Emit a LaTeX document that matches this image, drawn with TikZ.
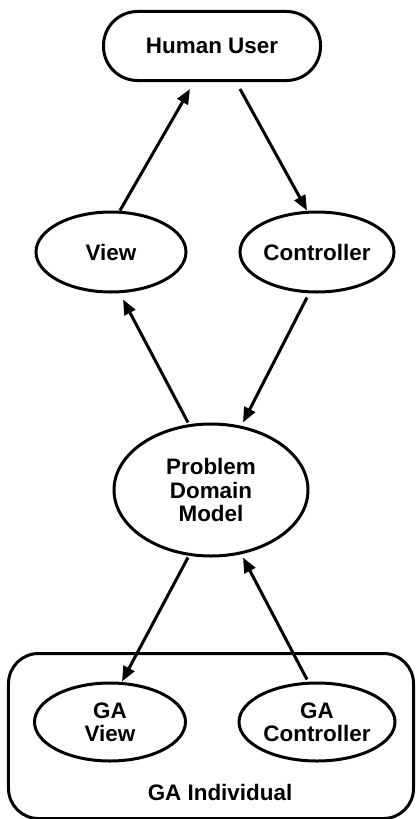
\documentclass[tikz,border=0pt]{standalone}
\usepackage{fontspec}
\setmainfont{Liberation Sans}
\usetikzlibrary{shapes.geometric,arrows.meta}
\begin{document}
\begin{tikzpicture}[x=1bp,y=-1bp,
  every node/.style={font=\fontsize{22.5}{23.5}\selectfont\bfseries},
  oval/.style={draw,ellipse,line width=3bp,inner sep=0pt,align=center},
  link/.style={line width=3bp,-{Triangle[length=15bp,width=12bp]}}]
\useasboundingbox (0,0) rectangle (415,819);
\node[draw,rounded corners=34bp,line width=3bp,minimum width=217bp,minimum height=69bp,inner sep=0pt] (human) at (212,46) {Human User};
\node[oval,minimum width=150bp,minimum height=80bp] (view) at (111,252) {View};
\node[oval,minimum width=154bp,minimum height=80bp] (ctrl) at (317,252) {Controller};
\node[oval,minimum width=194bp,minimum height=132bp] (pdm) at (211,490) {Problem\\Domain\\Model};
\node[draw,rounded corners=30bp,line width=3bp,minimum width=405bp,minimum height=165bp,inner sep=0pt] (gabox) at (211,736) {};
\node[oval,minimum width=151bp,minimum height=78bp] (gaview) at (110,722) {GA\\View};
\node[oval,minimum width=156bp,minimum height=78bp] (gactrl) at (317,722) {GA\\Controller};
\node (galabel) at (220,792) {GA Individual};
\draw[link] ([xshift=9bp]view.north) -- ([xshift=-22bp,yshift=-7bp]human.south);
\draw[link] ([xshift=28bp,yshift=-7bp]human.south) -- ([xshift=-10bp]ctrl.north);
\draw[link] ([xshift=-23bp]pdm.north) -- ([xshift=12bp,yshift=-6bp]view.south);
\draw[link] ([xshift=-10bp,yshift=-4bp]ctrl.south) -- ([xshift=32bp]pdm.north);
\draw[link] ([xshift=-23bp]pdm.south) -- ([xshift=12bp]gaview.north);
\draw[link] ([xshift=-10bp,yshift=2bp]gactrl.north) -- ([xshift=32bp]pdm.south);
\end{tikzpicture}
\end{document}
